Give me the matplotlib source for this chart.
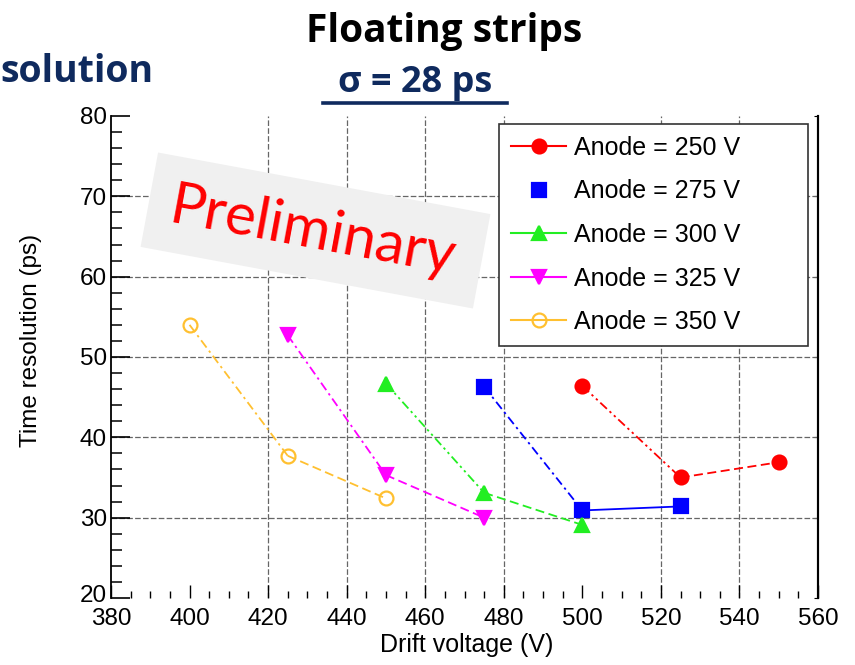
import matplotlib
matplotlib.use('Agg')
import matplotlib.pyplot as plt
from matplotlib.lines import Line2D
from matplotlib.patches import Rectangle
from matplotlib.transforms import Affine2D, ScaledTranslation

# ---------------- data ----------------
series_labels = ['Anode = 250 V', 'Anode = 275 V', 'Anode = 300 V',
                 'Anode = 325 V', 'Anode = 350 V']
drift_250 = [500, 525, 550]
res_250 = [46.4, 35.0, 36.9]
drift_275 = [475, 500, 525]
res_275 = [46.3, 30.9, 31.4]
drift_300 = [450, 475, 500]
res_300 = [46.7, 33.1, 29.1]
drift_325 = [425, 450, 475]
res_325 = [52.7, 35.3, 30.0]
drift_350 = [400, 425, 450]
res_350 = [54.0, 37.7, 32.4]

x_ticks = [380, 400, 420, 440, 460, 480, 500, 520, 540, 560]
y_ticks = [20, 30, 40, 50, 60, 70, 80]

# ---------------- styles ----------------
W, H = 855, 665
NAVY = '#0f2a5e'
dashdot = (0, (5, 2.2, 1.3, 2.2))
dashdotdot = (0, (5, 2, 1.3, 2, 1.3, 2))
dashed = (0, (5, 2.5))

styles = [
    dict(color='#ff0000', marker='o', mfc='#ff0000', segs=[dashdotdot, dashed], legline=True),
    dict(color='#0000ff', marker='s', mfc='#0000ff', segs=[dashdot, '-'], legline=False),
    dict(color='#22ee22', marker='^', mfc='#22ee22', segs=[dashdotdot, dashed], legline=True),
    dict(color='#ff00ff', marker='v', mfc='#ff00ff', segs=[dashdot, dashed], legline=True),
    dict(color='#ffc030', marker='o', mfc='none', segs=[dashdot, dashed], legline=True),
]
xs_all = [drift_250, drift_275, drift_300, drift_325, drift_350]
ys_all = [res_250, res_275, res_300, res_325, res_350]

fig = plt.figure(figsize=(W / 100, H / 100), dpi=100)
fig.patch.set_facecolor('white')
ax = fig.add_axes([111 / W, 1 - 598 / H, 707 / W, 482 / H])
ax.set_xlim(380, 560)
ax.set_ylim(20, 80)

TICKFONT = 'Liberation Sans'

# grid (drawn only at the lines visible in the reference)
grid_kw = dict(color='#666666', lw=0.9, ls=(0, (4.5, 1.8)), zorder=0.5)
for gx in [420, 440, 460, 480, 520, 540]:
    ax.axvline(gx, **grid_kw)
for gy in [30, 40, 50, 60, 70]:
    ax.axhline(gy, **grid_kw)

# data
for xs, ys, st in zip(xs_all, ys_all, styles):
    for i in range(len(xs) - 1):
        ax.plot(xs[i:i + 2], ys[i:i + 2], color=st['color'], ls=st['segs'][i],
                lw=1.3, zorder=2)
    ax.plot(xs, ys, ls='none', marker=st['marker'], ms=10,
            mfc=st['mfc'], mec=st['color'], mew=1.6, zorder=3)

# axes cosmetics
for s in ['top', 'bottom']:
    ax.spines[s].set_visible(False)
ax.spines['left'].set_linewidth(1.3)
ax.spines['right'].set_linewidth(1.5)

ax.set_xticks(x_ticks)
ax.set_xticks(range(385, 560, 5), minor=True)
ax.set_yticks(y_ticks)
ax.set_yticks(range(22, 80, 2), minor=True)
ax.tick_params(axis='y', which='major', direction='in', length=14, width=1.2,
               pad=3, labelsize=17.5)
ax.tick_params(axis='y', which='minor', direction='in', length=8, width=1.1)
ax.tick_params(axis='x', which='major', direction='in', length=9.5, width=1.0,
               pad=7, labelsize=17.5)
ax.tick_params(axis='x', which='minor', direction='in', length=5, width=1.0)
for lab in ax.get_xticklabels() + ax.get_yticklabels():
    lab.set_fontfamily(TICKFONT)
# the lowest y label sits slightly raised in the reference
t0 = ax.yaxis.get_major_ticks()[0]
t0.label1.set_transform(t0.label1.get_transform() +
                        ScaledTranslation(0, 4 / 100, fig.dpi_scale_trans))

sec = ax.secondary_yaxis('right')
sec.set_yticks(y_ticks)
sec.tick_params(direction='in', length=3, labelright=False)
sec.spines['right'].set_linewidth(1.5)

ax.set_xlabel('Drift voltage (V)', fontsize=18, family=TICKFONT)
ax.xaxis.set_label_coords((467 - 111) / 707, (598 - 645) / 482)
ax.xaxis.label.set_va('center')
ax.set_ylabel('Time resolution (ps)', fontsize=17.5, family=TICKFONT)
ax.yaxis.set_label_coords((31 - 111) / 707, (598 - 340) / 482)
ax.yaxis.label.set_va('center')

# legend
handles = []
for st, lab in zip(styles, series_labels):
    handles.append(Line2D([], [], color=st['color'], lw=1.5,
                          ls='-' if st['legline'] else 'none',
                          marker=st['marker'], ms=10, mfc=st['mfc'],
                          mec=st['color'], mew=1.6, label=lab))
x0 = (499 - 111) / 707
x1 = (808 - 111) / 707
ytop = (598 - 124) / 482
leg = ax.legend(handles=handles, loc='upper left', mode='expand',
                bbox_to_anchor=(x0, ytop - 0.45, x1 - x0, 0.45),
                borderaxespad=0, prop={'family': TICKFONT, 'size': 18},
                handlelength=2.2, handletextpad=0.3, borderpad=0.48,
                labelspacing=0.78, fancybox=False, framealpha=1,
                edgecolor='#333333', numpoints=1)
leg.get_frame().set_linewidth(1.2)

# Preliminary stamp
cx, cy = 315.5, 230.5
rect = Rectangle((cx - 169, (H - cy) - 48), 338, 96, facecolor='#f0f0f0',
                 edgecolor='none',
                 transform=Affine2D().rotate_deg_around(cx, H - cy, -10.5))
fig.add_artist(rect)
fig.text((cx - 3) / W, 1 - (cy + 2) / H, 'Preliminary', color='#ff0000', fontsize=42,
         family='Lato', rotation=-10.5, rotation_mode='anchor',
         ha='center', va='center', zorder=5)

# slide texts
fig.text(444 / W, 1 - 42 / H, 'Floating strips', ha='center', va='baseline',
         fontsize=28, fontweight='bold', family='Open Sans', color='black')
fig.text(415 / W, 1 - 92 / H, 'σ = 28 ps', ha='center', va='baseline',
         fontsize=26, fontweight='bold', family=['Open Sans', 'DejaVu Sans'],
         color=NAVY)
fig.add_artist(Line2D([323 / W, 507 / W], [1 - 103 / H, 1 - 103 / H],
                      lw=2.6, color=NAVY))
fig.text(0, 1 - 82 / H, 'solution', ha='left', va='baseline',
         fontsize=27, fontweight='bold', family='Open Sans', color=NAVY)

fig.savefig('out.png', dpi=100)
